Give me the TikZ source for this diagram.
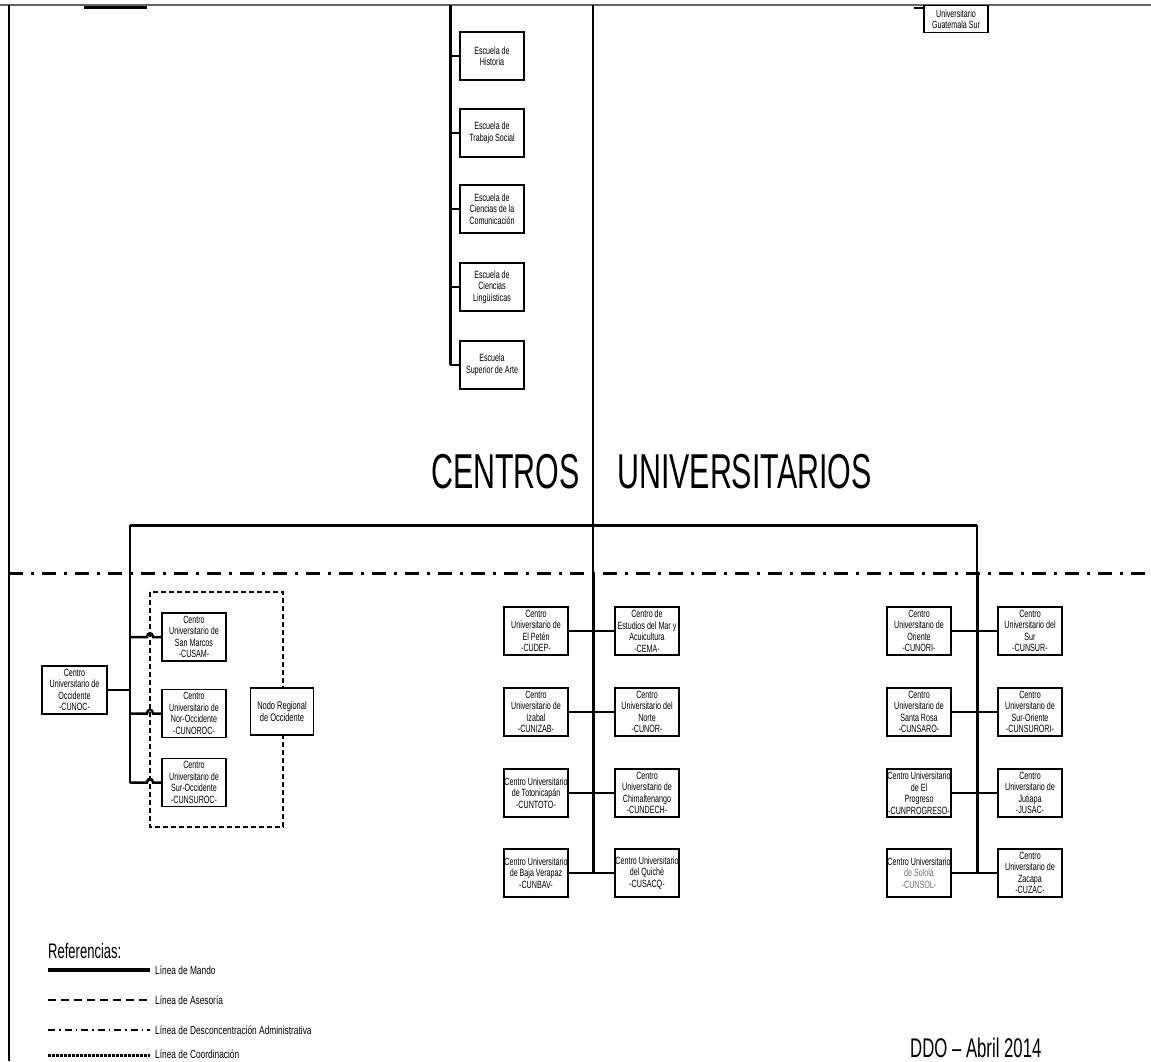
\documentclass[tikz,border=0pt]{standalone}
\usepackage{fontspec}
\setmainfont{Liberation Sans}
\newfontfamily\condA[FakeStretch=0.62]{Liberation Sans}
\newfontfamily\condB[FakeStretch=0.68]{Liberation Sans}
\newfontfamily\condC[FakeStretch=0.72]{Liberation Sans}
\begin{document}
\begin{tikzpicture}[x=1pt,y=-1pt,
  box/.style={draw=black, line width=1.2pt, fill=white, minimum width=64pt, minimum height=48pt, inner sep=0pt, align=center, font=\condB\fontsize{10.5}{11.5}\selectfont},
  mando/.style={line width=3pt},
  conn/.style={line width=2.5pt},
  thinl/.style={line width=1.5pt},
  lbl/.style={font=\condC\fontsize{11.6}{12}\selectfont, anchor=west, inner sep=0pt},
  big/.style={font=\condA\fontsize{49}{49}\selectfont, inner sep=0pt},
]
\useasboundingbox (0,0) rectangle (1151,1061);
% frame
\coordinate (fTL) at (0,5); \coordinate (fTR) at (1151,5);
\draw[line width=2pt, black!60] (fTL) -- (fTR);
\coordinate (fL1) at (9,5); \coordinate (fL2) at (9,1061);
\draw[thinl] (fL1) -- (fL2);
\coordinate (tl1) at (84,7); \coordinate (tl2) at (147,7);
\draw[mando] (tl1) -- (tl2);
% top right partial box
\node[box, minimum height=27pt, anchor=north] (gsur) at (956,5) {Universitario\\Guatemala Sur};
\coordinate (gstub) at (914,8);
\draw[conn] (gstub) -- (gstub -| gsur.west);
% escuelas
\node[box] (e1) at (492,56) {Escuela de\\Historia};
\node[box] (e2) at (492,133) {Escuela de\\Trabajo Social};
\node[box] (e3) at (492,209) {Escuela de\\Ciencias de la\\Comunicación};
\node[box] (e4) at (492,287) {Escuela de\\Ciencias\\Lingüísticas};
\node[box] (e5) at (492,365) {Escuela\\Superior de Arte};
\coordinate (esctop) at (450,5);
\draw[mando] (esctop) -- (esctop |- e5.west);
\foreach \i in {1,...,5} \draw[conn] (e\i.west) -- (e\i.west -| esctop);
% central thin line
\coordinate (ctop) at (593,5); \coordinate (cmid) at (593,573);
\draw[thinl] (ctop) -- (cmid);
% title
\node[big, anchor=base east] (tcen) at (580,488) {CENTROS};
\node[big, anchor=base west] (tuni) at (617,488) {UNIVERSITARIOS};
% horizontal bar
\coordinate (hl) at (130,525); \coordinate (hr) at (977,525);
\draw[mando] (hl) -- (hr);
% dash-dot line
\coordinate (dd1) at (9,573); \coordinate (dd2) at (1151,573);
\draw[line width=3pt, dash pattern=on 14pt off 8pt on 3pt off 8pt] (dd1) -- (dd2);
% left group
\node[box, minimum width=65pt] (cunoc) at (74.5,690) {Centro\\Universitario de\\Occidente\\-CUNOC-};
\coordinate (dr1) at (150,592); \coordinate (dr2) at (283,827);
\draw[line width=1.2pt, dash pattern=on 5pt off 3pt] (dr1) rectangle (dr2);
\node[box] (cusam) at (194,637) {Centro\\Universitario de\\San Marcos\\-CUSAM-};
\node[box] (cunoroc) at (194,713.5) {Centro\\Universitario de\\Nor-Occidente\\-CUNOROC-};
\node[box] (cunsuroc) at (194,782.5) {Centro\\Universitario de\\Sur-Occidente\\-CUNSUROC-};
\node[box, minimum width=63pt, minimum height=47pt, font=\condB\fontsize{11}{11.5}\selectfont] (nodo) at (282,711.5) {Nodo Regional\\de Occidente};
\draw[line width=2pt] (hl) -- (hl |- cunsuroc.west);
\draw[conn] (cunoc.east) -- (cunoc.east -| hl);
\coordinate (hopL) at (147,0); \coordinate (hopR) at (153,0);
\foreach \b in {cusam,cunoroc,cunsuroc}
  \draw[conn] (\b.west -| hl) -- (\b.west -| hopL) .. controls +(0,-5) and +(0,-5) .. (\b.west -| hopR) -- (\b.west);
% middle group
\node[box] (m1l) at (536,631) {Centro\\Universitario de\\El Petén\\-CUDEP-};
\node[box] (m1r) at (647,631) {Centro de\\Estudios del Mar y\\Acuicultura\\-CEMA-};
\node[box] (m2l) at (536,712) {Centro\\Universitario de\\Izabal\\-CUNIZAB-};
\node[box] (m2r) at (647,712) {Centro\\Universitario del\\Norte\\-CUNOR-};
\node[box] (m3l) at (536,793) {Centro Universitario\\de Totonicapán\\-CUNTOTO-};
\node[box] (m3r) at (647,793) {Centro\\Universitario de\\Chimaltenango\\-CUNDECH-};
\node[box] (m4l) at (536,873) {Centro Universitario\\de Baja Verapaz\\-CUNBAV-};
\node[box] (m4r) at (647,873) {Centro Universitario\\del Quiché\\-CUSACQ-};
\draw[mando] (cmid) -- (cmid |- m4l.east);
\foreach \i in {1,...,4} \draw[conn] (m\i l.east) -- (m\i r.west);
% right group
\node[box] (r1l) at (919,631) {Centro\\Universitario de\\Oriente\\-CUNORI-};
\node[box] (r1r) at (1030,631) {Centro\\Universitario del\\Sur\\-CUNSUR-};
\node[box] (r2l) at (919,712) {Centro\\Universitario de\\Santa Rosa\\-CUNSARO-};
\node[box] (r2r) at (1030,712) {Centro\\Universitario de\\Sur-Oriente\\-CUNSURORI-};
\node[box] (r3l) at (919,793) {Centro Universitario\\de El\\Progreso\\-CUNPROGRESO-};
\node[box] (r3r) at (1030,793) {Centro\\Universitario de\\Jutiapa\\-JUSAC-};
\node[box] (r4l) at (919,873) {Centro Universitario\\\textcolor{black!55}{de Sololá}\\\textcolor{black!55}{-CUNSOL-}};
\node[box] (r4r) at (1030,873) {Centro\\Universitario de\\Zacapa\\-CUZAC-};
\draw[line width=2pt] (hr) -- (hr |- dd1);
\draw[mando] (hr |- dd1) -- (hr |- r4l.east);
\foreach \i in {1,...,4} \draw[conn] (r\i l.east) -- (r\i r.west);
% legend
\node[font=\condA\fontsize{21}{21}\selectfont, anchor=base west, inner sep=0pt] (ref) at (48,958) {Referencias:};
\coordinate (la1) at (48,970); \coordinate (la2) at (150,970);
\draw[line width=3.5pt] (la1) -- (la2);
\node[lbl] (lat) at (155,970) {Línea de Mando};
\coordinate (lb1) at (48,1000); \coordinate (lb2) at (150,1000);
\draw[line width=2pt, dash pattern=on 8pt off 5pt] (lb1) -- (lb2);
\node[lbl] (lbt) at (155,1000) {Línea de Asesoría};
\coordinate (lc1) at (48,1030); \coordinate (lc2) at (150,1030);
\draw[line width=2pt, dash pattern=on 7pt off 4pt on 1.5pt off 4pt] (lc1) -- (lc2);
\node[lbl] (lct) at (155,1030) {Línea de Desconcentración Administrativa};
\coordinate (ld1) at (48,1055); \coordinate (ld2) at (150,1055);
\draw[line width=3pt, dash pattern=on 2.5pt off 1.5pt] (ld1) -- (ld2);
\node[lbl] (ldt) at (155,1054) {Línea de Coordinación};
\node[font=\condA\fontsize{27}{27}\selectfont, anchor=base west, inner sep=0pt] (ddo) at (910,1057) {DDO – Abril 2014};
\end{tikzpicture}
\end{document}
